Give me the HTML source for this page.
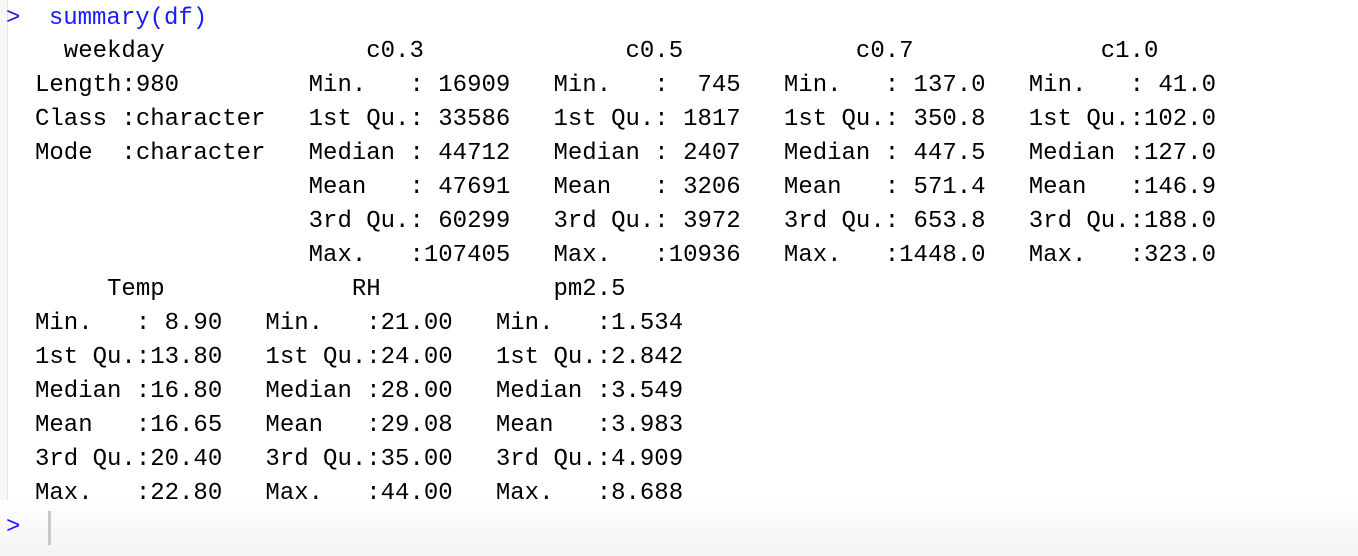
<!DOCTYPE html>
<html><head><meta charset="utf-8">
<style>
html,body{margin:0;padding:0;}
body{width:1358px;height:556px;position:relative;overflow:hidden;background:#fff;font-family:"Liberation Mono",monospace;font-size:24px;}
.bottom{position:absolute;left:0;top:500px;width:1358px;height:56px;background:linear-gradient(#fff,#f3f3f3);z-index:0;}
.edge{position:absolute;left:0;top:0;width:7px;height:556px;background:#f7f7f7;border-right:1px solid #e6e6e6;z-index:0;}
pre{position:absolute;margin:0;font:inherit;line-height:34px;color:#000;white-space:pre;z-index:1;}
.in{color:#1a1aff;}
.cursor{position:absolute;left:48px;top:511px;width:3px;height:34px;background:#c8c8c8;z-index:1;}
</style></head>
<body>
<div class="edge"></div>
<div class="bottom"></div>
<pre class="in" style="left:6px;top:2px">&gt; <span style="position:relative;left:14px">summary(df)</span></pre>
<pre style="left:20.6px;top:35px">   weekday              c0.3              c0.5            c0.7             c1.0      
 Length:980         Min.   : 16909   Min.   :  745   Min.   : 137.0   Min.   : 41.0  
 Class :character   1st Qu.: 33586   1st Qu.: 1817   1st Qu.: 350.8   1st Qu.:102.0  
 Mode  :character   Median : 44712   Median : 2407   Median : 447.5   Median :127.0  
                    Mean   : 47691   Mean   : 3206   Mean   : 571.4   Mean   :146.9  
                    3rd Qu.: 60299   3rd Qu.: 3972   3rd Qu.: 653.8   3rd Qu.:188.0  
                    Max.   :107405   Max.   :10936   Max.   :1448.0   Max.   :323.0  </pre>
<pre style="left:20.6px;top:273px">      Temp             RH            pm2.5      
 Min.   : 8.90   Min.   :21.00   Min.   :1.534  
 1st Qu.:13.80   1st Qu.:24.00   1st Qu.:2.842  
 Median :16.80   Median :28.00   Median :3.549  
 Mean   :16.65   Mean   :29.08   Mean   :3.983  
 3rd Qu.:20.40   3rd Qu.:35.00   3rd Qu.:4.909  
 Max.   :22.80   Max.   :44.00   Max.   :8.688  </pre>
<pre class="in" style="left:6px;top:511px">&gt;</pre>
<div class="cursor"></div>
</body></html>
